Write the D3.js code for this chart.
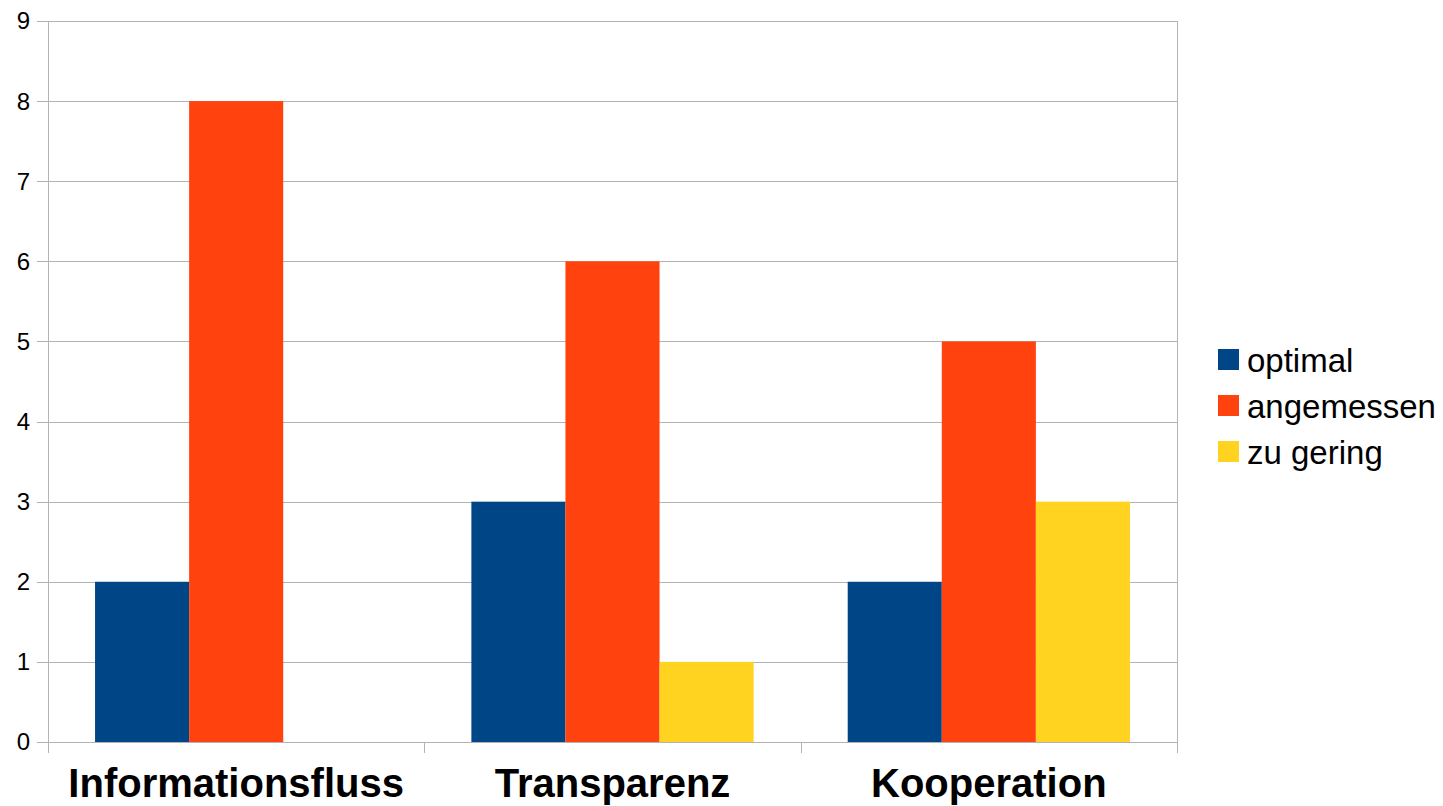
<!DOCTYPE html>
<html>
<head>
<meta charset="utf-8">
<script src="https://cdn.jsdelivr.net/npm/d3@7"></script>
<style>
  html, body { margin: 0; padding: 0; background: #fff; }
  svg { display: block; font-family: "Liberation Sans", Arial, sans-serif; }
</style>
</head>
<body>
<svg id="chart" width="1443" height="806"></svg>
<script>
// Survey counts per category
const categories = ["Informationsfluss", "Transparenz", "Kooperation"];
const seriesNames = ["optimal", "angemessen", "zu gering"];
const optimal = [2, 3, 2];
const angemessen = [8, 6, 5];
const zuGering = [0, 1, 3];
const yTicks = [0, 1, 2, 3, 4, 5, 6, 7, 8, 9];
const colors = ["#004586", "#ff420e", "#ffd320"];

const seriesValues = [optimal, angemessen, zuGering];

const svg = d3.select("#chart");
const plot = { left: 48, right: 1177, top: 21, bottom: 742 };
const gridColor = "#b3b3b3";

const x = d3.scaleBand().domain(categories).range([plot.left, plot.right]).padding(0);
const xSeries = d3.scaleBand().domain(seriesNames).range([0, x.bandwidth()])
  .paddingInner(0).paddingOuter(0.5);
const y = d3.scaleLinear().domain([0, 9]).range([plot.bottom, plot.top]);

// Horizontal gridlines with tick stubs
svg.append("g").selectAll("line").data(yTicks).join("line")
  .attr("x1", plot.left - 11).attr("x2", plot.right)
  .attr("y1", d => Math.round(y(d)) + 0.5).attr("y2", d => Math.round(y(d)) + 0.5)
  .attr("stroke", gridColor).attr("stroke-width", 1);

// Y tick labels
svg.append("g").selectAll("text").data(yTicks).join("text")
  .attr("x", 30).attr("y", d => y(d))
  .attr("dy", "0.35em")
  .attr("text-anchor", "end")
  .attr("font-size", 24)
  .attr("fill", "#000")
  .text(d => d);

// Bars
const rows = [];
categories.forEach((c, i) => {
  seriesNames.forEach((s, j) => {
    rows.push({ cat: c, series: s, value: seriesValues[j][i], color: colors[j] });
  });
});
svg.append("g").selectAll("rect").data(rows.filter(d => d.value > 0)).join("rect")
  .attr("x", d => x(d.cat) + xSeries(d.series))
  .attr("y", d => y(d.value))
  .attr("width", xSeries.bandwidth())
  .attr("height", d => y(0) - y(d.value))
  .attr("fill", d => d.color);

// Axis lines and category ticks
const edges = [plot.left, plot.right];
svg.append("g").selectAll("line").data(edges).join("line")
  .attr("x1", d => Math.round(d) + 0.5).attr("x2", d => Math.round(d) + 0.5)
  .attr("y1", plot.top).attr("y2", plot.bottom + 11)
  .attr("stroke", gridColor);
svg.append("g").selectAll("line").data(categories.slice(1)).join("line")
  .attr("x1", d => Math.round(x(d)) + 0.5).attr("x2", d => Math.round(x(d)) + 0.5)
  .attr("y1", plot.bottom).attr("y2", plot.bottom + 11)
  .attr("stroke", gridColor);
svg.append("line")
  .attr("x1", plot.left).attr("x2", plot.right)
  .attr("y1", Math.round(y(0)) + 0.5).attr("y2", Math.round(y(0)) + 0.5)
  .attr("stroke", gridColor);

// Category labels
svg.append("g").selectAll("text").data(categories).join("text")
  .attr("x", d => x(d) + x.bandwidth() / 2)
  .attr("y", 797)
  .attr("text-anchor", "middle")
  .attr("font-size", 40)
  .attr("font-weight", "bold")
  .attr("fill", "#000")
  .text(d => d);

// Legend
const legend = svg.append("g").attr("transform", "translate(1218,349)");
const item = legend.selectAll("g").data(seriesNames).join("g")
  .attr("transform", (d, i) => `translate(0,${i * 46})`);
item.append("rect").attr("width", 21).attr("height", 21)
  .attr("fill", (d, i) => colors[i]);
item.append("text").attr("x", 29).attr("y", 11).attr("dy", "0.35em")
  .attr("font-size", 33).attr("fill", "#000")
  .text(d => d);
</script>
</body>
</html>
